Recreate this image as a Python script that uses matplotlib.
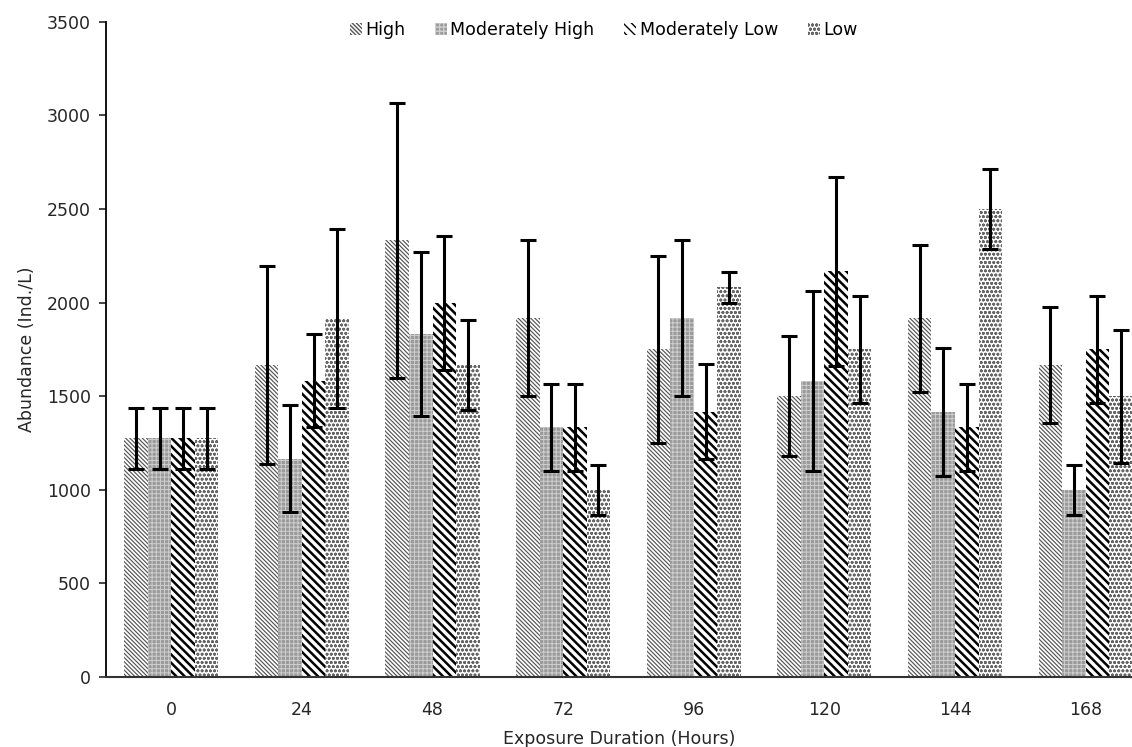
import matplotlib
matplotlib.use('Agg')
from matplotlib import pyplot as plt
import numpy as np

hours = ['0', '24', '48', '72', '96', '120', '144', '168']
series = ['High', 'Moderately High', 'Moderately Low', 'Low']

high = [1275, 1667, 2333, 1917, 1750, 1500, 1917, 1667]
mod_high = [1275, 1167, 1833, 1333, 1917, 1583, 1417, 1000]
mod_low = [1275, 1583, 2000, 1333, 1417, 2167, 1333, 1750]
low = [1275, 1917, 1667, 1000, 2083, 1750, 2500, 1500]

high_err = [162, 528, 733, 418, 498, 320, 393, 308]
mod_high_err = [162, 288, 440, 235, 418, 480, 343, 135]
mod_low_err = [162, 250, 358, 235, 253, 503, 235, 285]
low_err = [162, 478, 238, 135, 83, 285, 215, 355]

values = [high, mod_high, mod_low, low]
errors = [high_err, mod_high_err, mod_low_err, low_err]

# (facecolor, hatch, hatch colour, hatch linewidth)
styles = [
    ('white', '\\\\\\\\\\\\\\\\', '#555555', 0.85),
    ('#9a9a9a', '++++', '#cfcfcf', 0.7),
    ('white', '\\\\\\\\', 'black', 1.8),
    ('white', 'oooo', '#666666', 0.85),
]

plt.rcParams['font.family'] = ['DejaVu Sans']
txt = '#262626'

fig = plt.figure(figsize=(11.32, 7.47), dpi=100)
ax = fig.add_axes([0.0936, 0.0937, 0.9064, 0.877])

x = np.arange(len(hours))
w = 0.18
for i, (name, vals, errs) in enumerate(zip(series, values, errors)):
    fc, hatch, hc, hlw = styles[i]
    with plt.rc_context({'hatch.linewidth': hlw, 'hatch.color': hc}):
        ax.bar(x + (i - 1.5) * w, vals, w, color=fc, hatch=hatch,
               edgecolor=hc, linewidth=0, label=name)
    ax.errorbar(x + (i - 1.5) * w, vals, yerr=errs, fmt='none',
                ecolor='black', elinewidth=2.2, capsize=5.5, capthick=2.2)

ax.set_xlim(-0.5, 7.355)
ax.set_ylim(0, 3500)
ax.set_yticks(range(0, 3501, 500))
ax.set_xticks(x)
ax.set_xticklabels(hours)
ax.tick_params(axis='x', length=0, labelsize=12.5, pad=17, colors=txt)
ax.tick_params(axis='y', length=5, width=1.2, labelsize=12.5, colors=txt, pad=6)
ax.spines['top'].set_visible(False)
ax.spines['right'].set_visible(False)
ax.spines['left'].set_color('black')
ax.spines['left'].set_linewidth(1.3)
ax.spines['bottom'].set_color('#333333')
ax.spines['bottom'].set_linewidth(1.5)
ax.set_xlabel('Exposure Duration (Hours)', fontsize=12.5, color=txt, labelpad=8)
ax.set_ylabel('Abundance (Ind./L)', fontsize=12.5, color=txt, labelpad=8)

ax.legend(loc='upper center', ncol=4, frameon=False, fontsize=12.5,
          handlelength=0.7, handleheight=0.7, handletextpad=0.2,
          columnspacing=1.7, bbox_to_anchor=(0.485, 1.025))

fig.savefig('out.png', dpi=100)
